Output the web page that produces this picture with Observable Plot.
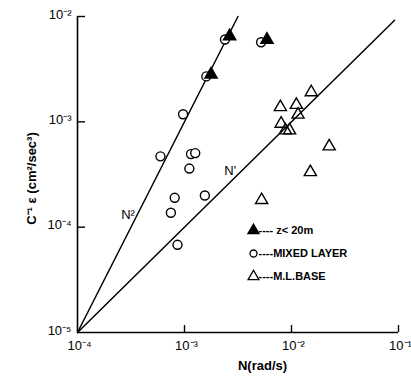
<!DOCTYPE html>
<html><head><meta charset="utf-8">
<script src="https://cdn.jsdelivr.net/npm/d3@7"></script>
<script src="https://cdn.jsdelivr.net/npm/@observablehq/plot@0.6"></script>
<style>
html,body{margin:0;padding:0;background:#fff;}
</style>
</head><body>
<div id="chart"></div>
<script>
// Mixed layer (open circles)
const mixedN   = [2.39e-3, 1.6e-3, 9.7e-4, 5.96e-4, 1.15e-3, 1.26e-3, 1.11e-3, 8.1e-4, 7.46e-4, 1.55e-3, 8.6e-4, 5.2e-3];
const mixedEps = [6.05e-3, 2.7e-3, 1.18e-3, 4.7e-4, 4.94e-4, 5.05e-4, 3.6e-4, 1.9e-4, 1.37e-4, 2.0e-4, 6.8e-5, 5.7e-3];
// z < 20 m (filled triangles)
const shallowN   = [2.64e-3, 1.77e-3, 5.9e-3];
const shallowEps = [6.5e-3, 2.82e-3, 6.0e-3];
// M.L. base (open triangles)
const baseN   = [1.53e-2, 7.87e-3, 1.11e-2, 1.15e-2, 8.0e-3, 8.77e-3, 9.6e-3, 2.25e-2, 1.5e-2, 5.26e-3];
const baseEps = [1.91e-3, 1.38e-3, 1.45e-3, 1.17e-3, 9.6e-4, 8.3e-4, 8.3e-4, 5.85e-4, 3.33e-4, 1.81e-4];
// reference lines
const n2LineN = [1e-4, 3.16e-3], n2LineEps = [1e-5, 1e-2];
const n1LineN = [1e-4, 0.092],   n1LineEps = [1e-5, 9.2e-3];
const lineLabels = [{n: 2.97e-4, eps: 1.3e-4, label: "N²"}, {n: 2.68e-3, eps: 3.46e-4, label: "N'"}];
// ticks
const xTicks = [1e-4, 1e-3, 1e-2, 1e-1];
const yTicks = [1e-5, 1e-4, 1e-3, 1e-2];
const tickLabels = {"-5":"10⁻⁵","-4":"10⁻⁴","-3":"10⁻³","-2":"10⁻²","-1":"10⁻¹"};
const legendItems = ["---- z< 20m", "----MIXED LAYER", "----M.L.BASE"];

const zip = (a, b) => a.map((v, i) => ({n: v, eps: b[i]}));
const fmt = d => tickLabels[String(Math.round(Math.log10(d)))];
const font = "'Liberation Sans', Arial, sans-serif";
const legendText = (txt, dy) => Plot.text([txt], {frameAnchor: "top-left", dx: 181, dy, textAnchor: "start", lineAnchor: "middle", fontSize: 11, fontWeight: "bold", fill: "#000"});

const chart = Plot.plot({
  width: 411, height: 378,
  marginLeft: 77, marginTop: 16, marginRight: 13, marginBottom: 46,
  style: {fontFamily: font, fontSize: "12px", background: "#fff", color: "#000"},
  x: {type: "log", domain: [1e-4, 1e-1], axis: null},
  y: {type: "log", domain: [1e-5, 1e-2], axis: null},
  marks: [
    Plot.ruleX([1e-4], {stroke: "#000", strokeWidth: 1.6}),
    Plot.ruleY([1e-5], {stroke: "#000", strokeWidth: 1.6}),
    Plot.tickX(xTicks.slice(1), {x: d => d, stroke: "#000", strokeWidth: 1.4, insetTop: 309}),
    Plot.tickY(yTicks.slice(1), {y: d => d, stroke: "#000", strokeWidth: 1.4, insetRight: 313}),
    Plot.axisX({ticks: xTicks, tickSize: 0, tickPadding: 8, tickFormat: fmt, fontSize: 13, dx: 2, label: null}),
    Plot.axisY({ticks: yTicks, tickSize: 0, tickPadding: 6, tickFormat: fmt, fontSize: 13, dy: -2, label: null}),
    Plot.line(zip(n2LineN, n2LineEps), {x: "n", y: "eps", stroke: "#000", strokeWidth: 1.5}),
    Plot.line(zip(n1LineN, n1LineEps), {x: "n", y: "eps", stroke: "#000", strokeWidth: 1.5}),
    Plot.text(lineLabels, {x: "n", y: "eps", text: "label", fontSize: 13, fill: "#000"}),
    Plot.dot(zip(mixedN, mixedEps), {x: "n", y: "eps", symbol: "circle", r: 4.5, fill: "#fff", stroke: "#000", strokeWidth: 1.4}),
    Plot.dot(zip(shallowN, shallowEps), {x: "n", y: "eps", symbol: "triangle", r: 4.5, fill: "#000", stroke: "#000"}),
    Plot.dot(zip(baseN, baseEps), {x: "n", y: "eps", symbol: "triangle", r: 4.5, fill: "none", stroke: "#000", strokeWidth: 1.4}),
    // legend
    Plot.dot([0], {frameAnchor: "top-left", dx: 176, dy: 214, symbol: "triangle", r: 4, fill: "#000", stroke: "#000"}),
    Plot.dot([0], {frameAnchor: "top-left", dx: 176, dy: 237, symbol: "circle", r: 3.5, fill: "none", stroke: "#000", strokeWidth: 1.3}),
    Plot.dot([0], {frameAnchor: "top-left", dx: 176, dy: 260, symbol: "triangle", r: 4, fill: "none", stroke: "#000", strokeWidth: 1.3}),
    legendText(legendItems[0], 214),
    legendText(legendItems[1], 237),
    legendText(legendItems[2], 260),
    // axis titles
    Plot.text(["N(rad/s)"], {frameAnchor: "bottom-left", dx: 185, dy: 33, textAnchor: "middle", lineAnchor: "middle", fontSize: 13, fontWeight: "bold", fill: "#000"}),
    Plot.text(["C⁻¹ ε (cm²/sec³)"], {frameAnchor: "left", dx: -46, dy: 4, rotate: -90, textAnchor: "middle", lineAnchor: "middle", fontSize: 13, fontWeight: "bold", fill: "#000"})
  ]
});
document.getElementById("chart").appendChild(chart);
</script>
</body></html>
